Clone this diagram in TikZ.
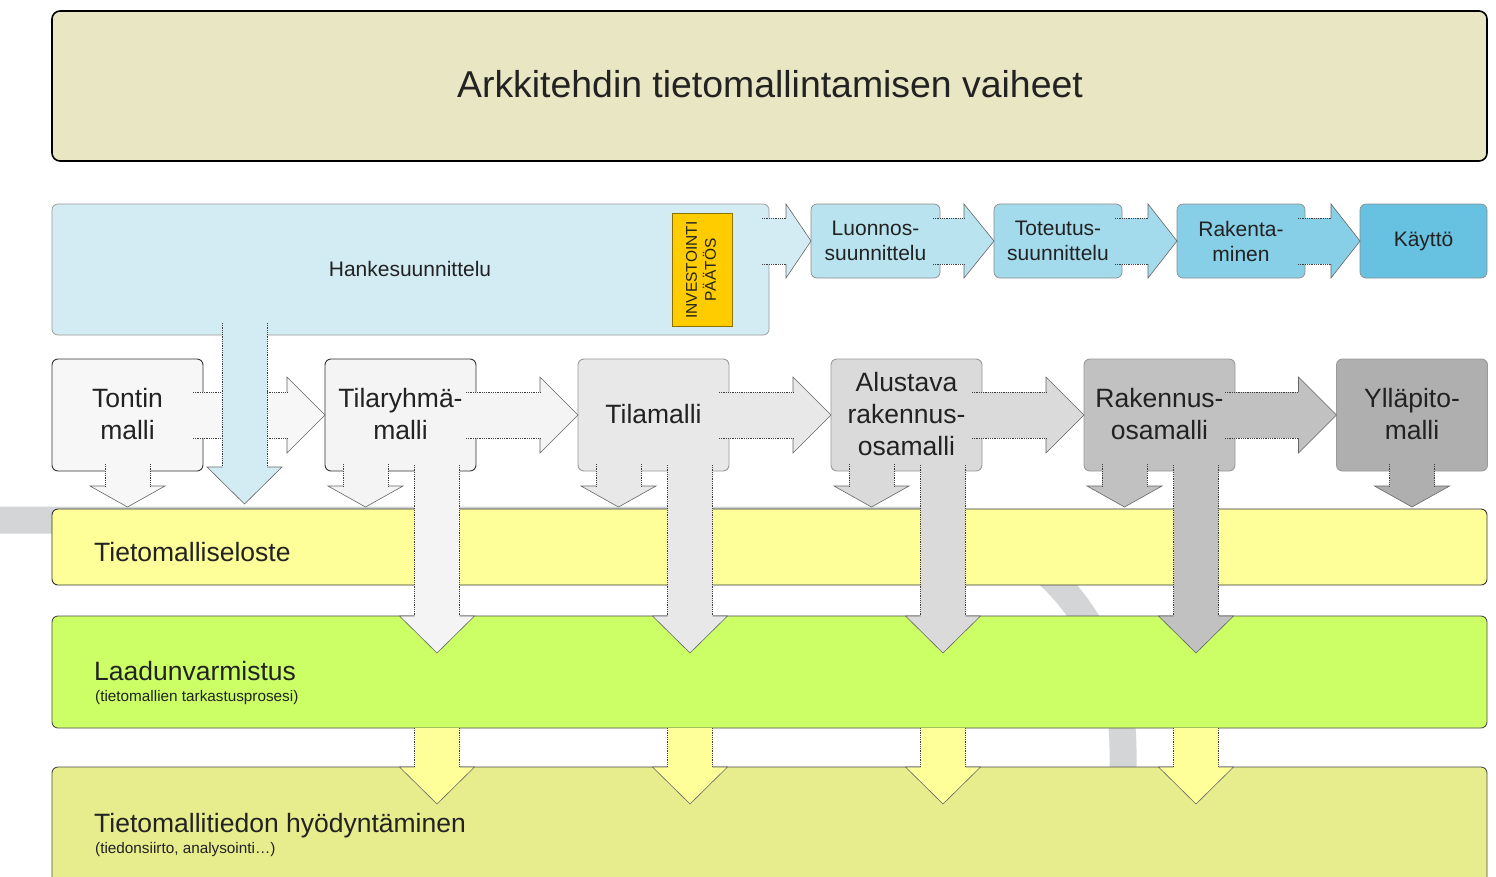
\documentclass[tikz,border=0pt]{standalone}
\usepackage{fontspec}
\setmainfont{Liberation Sans}
\usetikzlibrary{calc}
\definecolor{txt}{HTML}{222222}
\definecolor{bandc}{HTML}{D4D5D7}
\definecolor{titlec}{HTML}{E9E7C3}
\definecolor{hankec}{HTML}{D3ECF4}
\definecolor{luonc}{HTML}{BAE3F0}
\definecolor{totc}{HTML}{A3DAEC}
\definecolor{rakc}{HTML}{87CFE6}
\definecolor{kayc}{HTML}{66C2E0}
\definecolor{invc}{HTML}{FFCC00}
\definecolor{m1}{HTML}{F7F7F7}
\definecolor{m2}{HTML}{F4F4F4}
\definecolor{m3}{HTML}{E8E8E8}
\definecolor{m4}{HTML}{DADADA}
\definecolor{m5}{HTML}{C1C1C1}
\definecolor{m6}{HTML}{AFAFAF}
\definecolor{selc}{HTML}{FFFF99}
\definecolor{laac}{HTML}{CCFF66}
\definecolor{botc}{HTML}{E7EC8D}

\newcommand\blkH[7]{%
  \coordinate (ha-p) at (#1.east |- #2.west);
  \coordinate (ha-s) at ($(ha-p)+(-#4,0)$);
  \coordinate (ha-t) at (#2.west);
  \coordinate (ha-b) at ($(ha-t)+(-#5,0)$);
  \fill[#3] ($(ha-s)+(0,-#6)$) -- ($(ha-b)+(0,-#6)$) -- ($(ha-b)+(0,-#7)$) -- (ha-t) -- ($(ha-b)+(0,#7)$) -- ($(ha-b)+(0,#6)$) -- ($(ha-s)+(0,#6)$) -- cycle;
  \draw[shaftline] ($(ha-s)+(0,-#6)$) -- ($(ha-b)+(0,-#6)$) ($(ha-s)+(0,#6)$) -- ($(ha-b)+(0,#6)$);
  \draw[headline] ($(ha-b)+(0,-#6)$) -- ($(ha-b)+(0,-#7)$) -- (ha-t) -- ($(ha-b)+(0,#7)$) -- ($(ha-b)+(0,#6)$);
}
\newcommand\blkV[5]{%
  \coordinate (va-s) at #1;
  \coordinate (va-p) at (va-s |- #2.north);
  \coordinate (va-b) at ($(va-p)+(0,#4)$);
  \coordinate (va-t) at ($(va-p)+(0,#5)$);
  \fill[#3] ($(va-s)+(-22.5,0)$) -- ($(va-b)+(-22.5,0)$) -- ($(va-b)+(-37.5,0)$) -- (va-t) -- ($(va-b)+(37.5,0)$) -- ($(va-b)+(22.5,0)$) -- ($(va-s)+(22.5,0)$) -- cycle;
  \draw[shaftline] ($(va-s)+(-22.5,0)$) -- ($(va-b)+(-22.5,0)$) ($(va-s)+(22.5,0)$) -- ($(va-b)+(22.5,0)$);
  \draw[headline] ($(va-b)+(-22.5,0)$) -- ($(va-b)+(-37.5,0)$) -- (va-t) -- ($(va-b)+(37.5,0)$) -- ($(va-b)+(22.5,0)$);
}

\begin{document}
\begin{tikzpicture}[x=1pt,y=-1pt,
  shaftline/.style={densely dotted, line width=0.8pt, draw=black!75},
  headline/.style={line width=0.6pt, draw=black!60},
  box/.style={rounded corners=6pt, outer sep=0pt, inner sep=0pt},
  widebox/.style={box, minimum width=1435pt, text=txt},
  phase/.style={box, draw=black!45, line width=0.7pt, minimum height=74pt},
  model/.style={box, line width=0.9pt, minimum width=151pt, minimum height=112pt},
  ptxt/.style={text=txt, align=center, font=\fontsize{21}{25}\selectfont},
  mtxt/.style={text=txt, align=center, font=\fontsize{26.5}{32}\selectfont},
  bigtxt/.style={text=txt, anchor=base west, inner sep=0pt, font=\fontsize{26.5}{32}\selectfont},
  subtxt/.style={text=txt, anchor=base west, inner sep=0pt, font=\fontsize{15.3}{18}\selectfont}]
\useasboundingbox (0,0) rectangle (1496,876);
\begin{scope}
\clip (0,0) rectangle (1496,876);
\fill[white] (0,0) rectangle (1496,876);
% background band
\draw[bandc, line width=27pt] (-10,520) -- (912,520) .. controls (1028,520) and (1123,623) .. (1123,750) -- (1123,900);

% title
\node[widebox, draw=black, line width=1.6pt, fill=titlec, minimum height=150pt, rounded corners=8pt] (title) at (769.5,86) {};
\node[text=txt, font=\fontsize{37.4}{44}\selectfont] (title-t) at (770,84) {Arkkitehdin tietomallintamisen vaiheet};

% phases
\node[box, draw=black!40, line width=0.7pt, fill=hankec, minimum width=717pt, minimum height=131pt] (hanke) at (410.5,269.5) {};
\node[draw=black!45!invc, line width=0.7pt, fill=invc, minimum width=60pt, minimum height=113pt, outer sep=0pt] (inv) at (702,269.5) {};
\node[phase, fill=luonc, minimum width=129pt] (luon) at (875.5,241) {};
\node[phase, fill=totc, minimum width=128pt] (tot) at (1058,241) {};
\node[phase, fill=rakc, minimum width=128pt] (rak) at (1241,241) {};
\node[phase, fill=kayc, minimum width=127pt] (kay) at (1423.5,241) {};
\blkH{hanke}{luon}{hankec}{7}{25}{23}{37}
\blkH{luon}{tot}{luonc}{7}{30}{23}{37}
\blkH{tot}{rak}{totc}{7}{29}{23}{37}
\blkH{rak}{kay}{rakc}{7}{29}{23}{37}
\node[ptxt] (hanke-t) at (410,269) {Hankesuunnittelu};
\node[text=txt, rotate=90, align=center, font=\fontsize{15.5}{19}\selectfont] (inv-t) at (701,270) {INVESTOINTI\\PÄÄTÖS};
\node[ptxt] (luon-t) at (875.5,241) {Luonnos-\\suunnittelu};
\node[ptxt] (tot-t) at (1058,241) {Toteutus-\\suunnittelu};
\node[ptxt] (rak-t) at (1241,241) {Rakenta-\\minen};
\node[ptxt] (kay-t) at (1423.5,241) {Käyttö};

% wide bands
\node[widebox, draw=black!80, line width=0.9pt, fill=selc, minimum height=76pt] (sel) at (769.5,547) {};
\node[widebox, draw=black!70, line width=0.9pt, fill=laac, minimum height=112pt] (laa) at (769.5,672) {};
\node[widebox, draw=black!70, line width=0.9pt, fill=botc, minimum height=150pt] (bot) at (769.5,842) {};
\node[bigtxt] (sel-t) at (94,561) {Tietomalliseloste};
\node[bigtxt] (laa-t) at (94,680) {Laadunvarmistus};
\node[subtxt] (laa-s) at (95,701) {(tietomallien tarkastusprosesi)};
\node[bigtxt] (bot-t) at (94,832) {Tietomallitiedon hyödyntäminen};
\node[subtxt] (bot-s) at (95,853) {(tiedonsiirto, analysointi…)};

% models
\node[model, draw=black!80, fill=m1] (mA) at (127.5,415) {};
\node[model, draw=black!80, fill=m2] (mB) at (400.5,415) {};
\node[model, draw=black!40, fill=m3] (mC) at (653.5,415) {};
\node[model, draw=black!40, fill=m4] (mD) at (906.5,415) {};
\node[model, draw=black!40, fill=m5] (mE) at (1159.5,415) {};
\node[model, draw=black!40, fill=m6] (mF) at (1412,415) {};
\blkH{mA}{mB}{m1}{10}{38}{23}{38}
\blkH{mB}{mC}{m2}{10}{38}{23}{38}
\blkH{mC}{mD}{m3}{10}{38}{23}{38}
\blkH{mD}{mE}{m4}{10}{38}{23}{38}
\blkH{mE}{mF}{m5}{10}{38}{23}{38}

% blue arrow from Hankesuunnittelu
\blkV{($(hanke.south)+(-166,-12)$)}{sel}{hankec}{-42}{-5}

% small arrows to Tietomalliseloste
\blkV{($(mA.south)+(0,-7)$)}{sel}{m1}{-23}{-2}
\blkV{($(mB.south)+(-35,-7)$)}{sel}{m2}{-23}{-2}
\blkV{($(mC.south)+(-35,-7)$)}{sel}{m3}{-23}{-2}
\blkV{($(mD.south)+(-35,-7)$)}{sel}{m4}{-23}{-2}
\blkV{($(mE.south)+(-35,-7)$)}{sel}{m5}{-23}{-2}
\blkV{($(mF.south)+(0,-7)$)}{sel}{m6}{-23}{-2}

% big arrows to Laadunvarmistus
\coordinate (k1) at ($(mB.south)+(36.5,0)$);
\coordinate (k2) at ($(mC.south)+(36.5,0)$);
\coordinate (k3) at ($(mD.south)+(36.5,0)$);
\coordinate (k4) at ($(mE.south)+(36.5,0)$);
\blkV{($(k1)+(0,-6)$)}{laa}{m2}{0}{37}
\blkV{($(k2)+(0,-6)$)}{laa}{m3}{0}{37}
\blkV{($(k3)+(0,-6)$)}{laa}{m4}{0}{37}
\blkV{($(k4)+(0,-6)$)}{laa}{m5}{0}{37}

% yellow arrows to bottom band
\blkV{(k1 |- laa.south)}{bot}{selc}{0}{37}
\blkV{(k2 |- laa.south)}{bot}{selc}{0}{37}
\blkV{(k3 |- laa.south)}{bot}{selc}{0}{37}
\blkV{(k4 |- laa.south)}{bot}{selc}{0}{37}

% model labels
\node[mtxt] (mA-t) at (127.5,414) {Tontin\\malli};
\node[mtxt] (mB-t) at (400.5,414) {Tilaryhmä-\\malli};
\node[mtxt] (mC-t) at (653.5,414) {Tilamalli};
\node[mtxt] (mD-t) at (906.5,414) {Alustava\\rakennus-\\osamalli};
\node[mtxt] (mE-t) at (1159.5,414) {Rakennus-\\osamalli};
\node[mtxt] (mF-t) at (1412,414) {Ylläpito-\\malli};
\end{scope}
\end{tikzpicture}
\end{document}
